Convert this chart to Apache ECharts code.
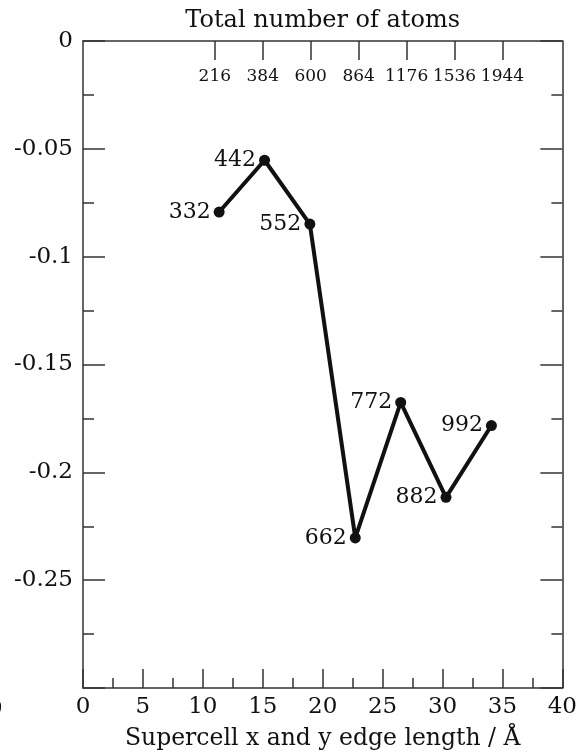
<!DOCTYPE html>
<html>
<head>
<meta charset="utf-8">
<script src="https://cdn.jsdelivr.net/npm/echarts@6/dist/echarts.min.js"></script>
<style>
  html, body { margin: 0; padding: 0; background: #fff; }
  #chart { width: 580px; height: 756px; }
</style>
</head>
<body>
<div id="chart"></div>
<script>
// Supercell edge length (Å) and energy values
const edgeLengths = [11.36, 15.15, 18.93, 22.72, 26.51, 30.29, 34.08];
const energies = [-0.0793, -0.0553, -0.0849, -0.2304, -0.1676, -0.2116, -0.1783];
const pointLabels = ['332', '442', '552', '662', '772', '882', '992'];

// Top axis: total number of atoms
const atomTickPositions = [11, 15, 19, 23, 27, 31, 35];
const atomTickLabels = ['216', '384', '600', '864', '1176', '1536', '1944'];

const FONT = 'DejaVu Serif';
const INK = '#111';
const AXIS = '#333';

const atomMap = {};
atomTickPositions.forEach((p, i) => { atomMap[p] = atomTickLabels[i]; });

const chart = echarts.init(document.getElementById('chart'), null, { renderer: 'canvas' });

const option = {
  backgroundColor: '#fff',
  animation: false,
  textStyle: { fontFamily: FONT },
  grid: { left: 83, right: 16, top: 41, bottom: 65, containLabel: false },
  xAxis: [
    {
      type: 'value', position: 'bottom', min: 0, max: 40, interval: 5,
      axisLine: { show: true, onZero: false, lineStyle: { color: AXIS, width: 1.5 } },
      axisTick: { show: true, inside: true, length: 19, lineStyle: { color: AXIS, width: 1.5 } },
      minorTick: { show: true, splitNumber: 2, length: 10, lineStyle: { color: AXIS, width: 1.5 } },
      splitLine: { show: false },
      axisLabel: { fontFamily: FONT, fontSize: 23, color: INK, margin: 8 },
      name: 'Supercell x and y edge length / Å',
      nameLocation: 'middle', nameGap: 39,
      nameTextStyle: { fontFamily: FONT, fontSize: 23.5, color: INK }
    },
    {
      type: 'value', position: 'top', min: 0, max: 40,
      axisLine: { show: true, onZero: false, lineStyle: { color: AXIS, width: 1.5 } },
      axisTick: { show: true, inside: true, length: 19, customValues: atomTickPositions,
                  lineStyle: { color: AXIS, width: 1.5 } },
      splitLine: { show: false },
      axisLabel: {
        show: true, inside: true, customValues: atomTickPositions, margin: 27,
        fontFamily: FONT, fontSize: 17, color: INK,
        formatter: v => atomMap[Math.round(v)] || ''
      },
      name: 'Total number of atoms',
      nameLocation: 'middle', nameGap: 8,
      nameTextStyle: { fontFamily: FONT, fontSize: 24, color: INK }
    }
  ],
  yAxis: [
    {
      type: 'value', position: 'left', min: -0.3, max: 0, interval: 0.05,
      axisLine: { show: true, onZero: false, lineStyle: { color: AXIS, width: 1.5 } },
      axisTick: { show: true, inside: true, length: 22, lineStyle: { color: AXIS, width: 1.5 } },
      minorTick: { show: true, splitNumber: 2, length: 11, lineStyle: { color: AXIS, width: 1.5 } },
      splitLine: { show: false },
      axisLabel: {
        fontFamily: FONT, fontSize: 23, color: INK, margin: 10,
        formatter: v => (Math.abs(v + 0.3) < 1e-9 ? '' : String(+v.toFixed(2)))
      }
    },
    {
      type: 'value', position: 'right', min: -0.3, max: 0, interval: 0.05,
      axisLine: { show: true, onZero: false, lineStyle: { color: AXIS, width: 1.5 } },
      axisTick: { show: true, inside: true, length: 22, lineStyle: { color: AXIS, width: 1.5 } },
      minorTick: { show: true, splitNumber: 2, length: 11, lineStyle: { color: AXIS, width: 1.5 } },
      splitLine: { show: false },
      axisLabel: { show: false }
    }
  ],
  graphic: [
    { type: 'text', left: -12, top: 698, silent: true,
      style: { text: '0', fontFamily: FONT, fontSize: 23, fill: INK } }
  ],
  series: [
    {
      type: 'line', xAxisIndex: 0, yAxisIndex: 0,
      data: edgeLengths.map((x, i) => ({ value: [x, energies[i]], name: pointLabels[i] })),
      symbol: 'circle', symbolSize: 11,
      itemStyle: { color: INK },
      lineStyle: { color: INK, width: 4 },
      label: {
        show: true, position: 'left', distance: 3, formatter: '{b}',
        fontFamily: FONT, fontSize: 22, color: INK
      },
      z: 5
    }
  ]
};

chart.setOption(option);
</script>
</body>
</html>
